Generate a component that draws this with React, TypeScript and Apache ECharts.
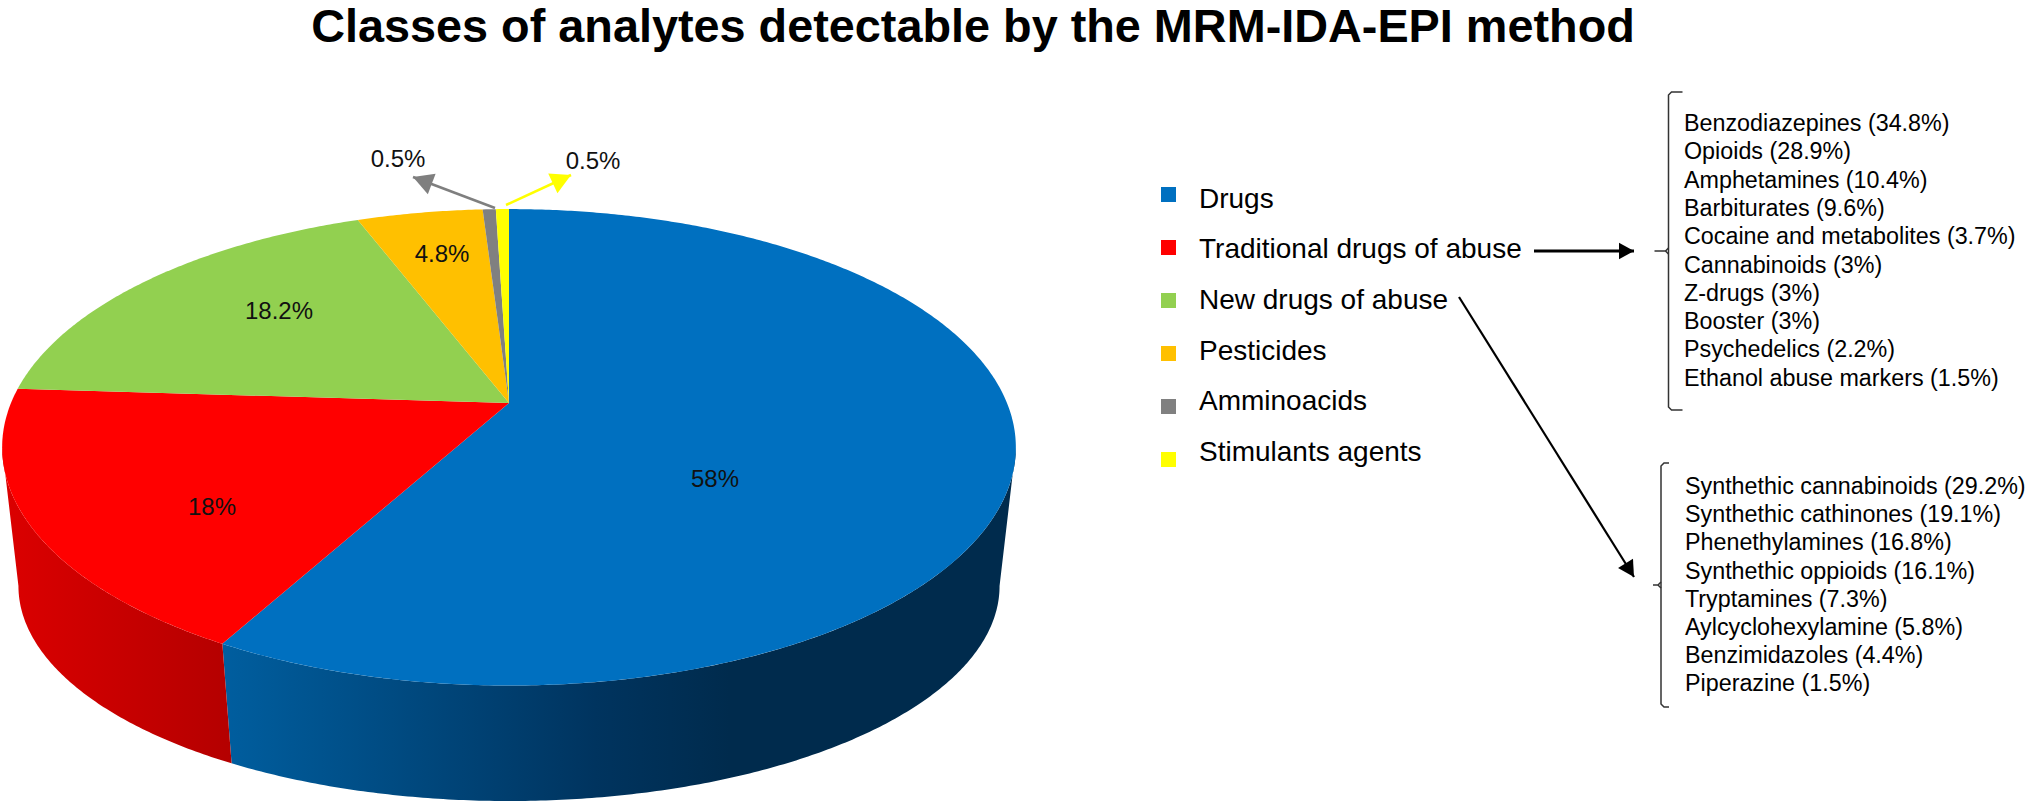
import React, { useEffect, useRef } from "react";
import * as echarts from "echarts";

const TITLE = "Classes of analytes detectable by the MRM-IDA-EPI method";
const categories = ["Drugs", "Traditional drugs of abuse", "New drugs of abuse", "Pesticides", "Amminoacids", "Stimulants agents"];
const shares = [58, 18, 18.2, 4.8, 0.5, 0.5];
const faceColors = ["#0070C0", "#FF0000", "#92D050", "#FFC000", "#808080", "#FFFF00"];
const traditionalDrugs = [
  "Benzodiazepines (34.8%)", "Opioids (28.9%)", "Amphetamines (10.4%)", "Barbiturates (9.6%)",
  "Cocaine and metabolites (3.7%)", "Cannabinoids (3%)", "Z-drugs (3%)", "Booster (3%)",
  "Psychedelics (2.2%)", "Ethanol abuse markers (1.5%)",
];
const newDrugs = [
  "Synthethic cannabinoids (29.2%)", "Synthethic cathinones (19.1%)", "Phenethylamines (16.8%)",
  "Synthethic oppioids (16.1%)", "Tryptamines (7.3%)", "Aylcyclohexylamine (5.8%)",
  "Benzimidazoles (4.4%)", "Piperazine (1.5%)",
];

const FONT = '"Liberation Sans", Arial, sans-serif';
const labelAnchors: [number, number][] = [[715, 478], [212, 506], [279, 310], [442, 253], [398, 158], [593, 160]];

// Perspective projection of the pie disc: u,v on the unit circle, p the perspective strength.
const P = 0.186;
const TOP = { cx: 509, cy: 403, a: 498, b: 230 };
const BOTTOM = { cx: 509, cy: 546, a: 482, b: 207.6 };
const rimPoint = (g: typeof TOP, deg: number): number[] => {
  const t = (deg * Math.PI) / 180;
  const u = Math.sin(t);
  const v = -Math.cos(t);
  const w = 1 - P * v;
  return [g.cx + (g.a * u) / w, g.cy + (g.b * v) / w];
};
const arc = (g: typeof TOP, from: number, to: number): number[][] => {
  const n = Math.max(2, Math.ceil(Math.abs(to - from) * 2));
  const pts: number[][] = [];
  for (let i = 0; i <= n; i++) pts.push(rimPoint(g, from + ((to - from) * i) / n));
  return pts;
};
// Clockwise angles at which the wall's silhouette leaves the rim.
const wallFrom = (Math.acos(-P) * 180) / Math.PI;
const wallTo = 360 - wallFrom;

const wallFill: Record<number, any> = {
  0: { type: "linear", x: 0, y: 0, x2: 1, y2: 0, colorStops: [
    { offset: 0, color: "#005E9F" }, { offset: 0.47, color: "#00345F" }, { offset: 0.64, color: "#002B4D" }, { offset: 1, color: "#002B4D" },
  ] },
  1: { type: "linear", x: 0, y: 0, x2: 1, y2: 0, colorStops: [
    { offset: 0, color: "#DC0000" }, { offset: 1, color: "#B40000" },
  ] },
};

const starts = shares.map((_, i) => shares.slice(0, i).reduce((s, v) => s + v, 0) * 3.6);

const sliceSeries = categories.map((name, i) => ({
  type: "custom",
  name,
  coordinateSystem: "none",
  silent: true,
  itemStyle: { color: faceColors[i] },
  data: [shares[i]],
  renderItem: (_params: any, api: any) => {
    const from = starts[i];
    const to = from + api.value(0) * 3.6;
    const children: any[] = [];
    const wa = Math.max(from, wallFrom);
    const wb = Math.min(to, wallTo);
    if (wallFill[i] && wb > wa) {
      const pts = [...arc(TOP, wa, wb), ...arc(BOTTOM, wb, wa)];
      children.push({ type: "polygon", shape: { points: pts }, style: { fill: wallFill[i] } });
    }
    children.push({
      type: "polygon",
      shape: { points: [[TOP.cx, TOP.cy], ...arc(TOP, from, to)] },
      style: { fill: faceColors[i] },
    });
    children.push({
      type: "text",
      x: labelAnchors[i][0],
      y: labelAnchors[i][1],
      z2: 10,
      style: { text: `${api.value(0)}%`, fill: "#111", font: `24px ${FONT}`, textAlign: "center", verticalAlign: "middle" },
    });
    return { type: "group", children };
  },
}));

const listTexts = (items: string[], x: number, y0: number, step: number) =>
  items.map((text, i) => ({
    type: "text",
    x,
    y: y0 + step * i,
    style: { text, fill: "#000", font: `23.3px ${FONT}`, textAlign: "left", verticalAlign: "middle" },
  }));

const head = (tip: number[], from: number[], size: number, color: string) => {
  const dx = tip[0] - from[0];
  const dy = tip[1] - from[1];
  const len = Math.hypot(dx, dy);
  const ux = dx / len;
  const uy = dy / len;
  const bx = tip[0] - ux * size;
  const by = tip[1] - uy * size;
  const h = size * 0.55;
  return {
    type: "polygon",
    shape: { points: [tip, [bx - uy * h, by + ux * h], [bx + uy * h, by - ux * h]] },
    style: { fill: color },
  };
};
const arrow = (from: number[], tip: number[], width: number, size: number, color: string) => [
  { type: "line", shape: { x1: from[0], y1: from[1], x2: tip[0], y2: tip[1] }, style: { stroke: color, lineWidth: width } },
  head(tip, from, size, color),
];
const brace = (x: number, top: number, bottom: number, mid: number, serif: number, nub: number) => {
  const style = { stroke: "#333", lineWidth: 1.5, fill: "none" };
  return [
    { type: "polyline", shape: { points: [[x + serif, top], [x + 3, top], [x, top + 3], [x, bottom - 3], [x + 3, bottom], [x + serif, bottom]] }, style },
    { type: "polyline", shape: { points: [[x, mid - 3], [x - 3, mid], [x - nub, mid]] }, style },
    { type: "polyline", shape: { points: [[x - 3, mid], [x, mid + 3]] }, style },
  ];
};

export default function App() {
  const ref = useRef<HTMLDivElement>(null);
  useEffect(() => {
    const chart = echarts.init(ref.current!, undefined, { renderer: "svg" });
    chart.setOption({
      animation: false,
      backgroundColor: "#fff",
      title: {
        text: TITLE,
        left: 973,
        top: 0,
        padding: [10, 0, 0, 0],
        textAlign: "center",
        textStyle: { fontFamily: FONT, fontWeight: "bold", fontSize: 46.8, lineHeight: 32, color: "#000" },
      },
      legend: [
        {
          data: categories,
          orient: "vertical",
          left: 1161,
          top: 184,
          padding: 0,
          icon: "rect",
          itemWidth: 15,
          itemHeight: 15,
          itemGap: 22.7,
          selectedMode: false,
          itemStyle: { opacity: 0 },
          textStyle: { fontFamily: FONT, fontSize: 28, color: "#000", padding: [0, 0, 0, 18] },
        },
        {
          data: categories,
          orient: "vertical",
          left: 1161,
          top: 187,
          padding: 0,
          icon: "rect",
          itemWidth: 15,
          itemHeight: 15,
          itemGap: 38,
          selectedMode: false,
          formatter: () => "",
          textStyle: { fontSize: 1 },
        },
      ],
      series: sliceSeries,
      graphic: {
        elements: [
          ...arrow([495, 208], [413, 177], 2.5, 20, "#7F7F7F"),
          ...arrow([506, 205], [571, 175], 2.5, 20, "#FFFF00"),
          ...arrow([1534, 251], [1634, 251], 3, 15, "#000"),
          ...arrow([1459, 297], [1634, 577], 2.2, 16, "#000"),
          ...brace(1668.5, 92, 410, 251, 14, 14),
          ...brace(1661, 463, 707, 585, 8, 8),
          ...listTexts(traditionalDrugs, 1684, 123, 28.3),
          ...listTexts(newDrugs, 1685, 486, 28.2),
        ],
      },
    });
    return () => chart.dispose();
  }, []);
  return <div ref={ref} style={{ position: "absolute", left: 0, top: 0, width: 2025, height: 805 }} />;
}
